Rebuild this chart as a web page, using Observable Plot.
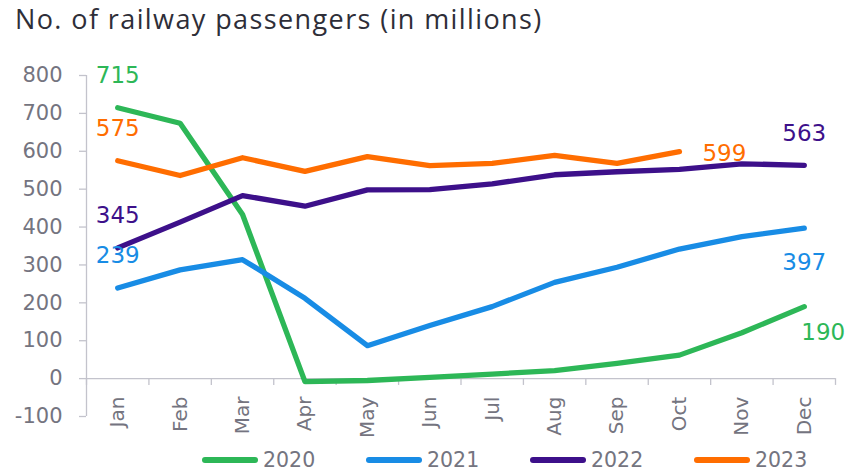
<!DOCTYPE html>
<html>
<head>
<meta charset="utf-8">
<script src="https://cdn.jsdelivr.net/npm/d3@7"></script>
<script src="https://cdn.jsdelivr.net/npm/@observablehq/plot@0.6"></script>
<style>
  html, body { margin: 0; padding: 0; background: #ffffff; }
  #wrap { width: 846px; height: 473px; position: relative; overflow: hidden; }
  #title { height: 46px; box-sizing: border-box; padding: 0 0 0 15px; font-family: "Open Sans", sans-serif; font-size: 27px; letter-spacing: 1.4px; line-height: 37px; color: #2E2E38; white-space: nowrap; }
  #legend { height: 27px; display: flex; align-items: center; padding-left: 202px; font-family: "DejaVu Sans", sans-serif; font-size: 20.5px; color: #747480; }
  .item { width: 164px; display: flex; align-items: center; flex: none; }
  .swatch { width: 56px; height: 6px; border-radius: 3px; margin-right: 5px; }
  svg { display: block; }
</style>
</head>
<body>
<div id="wrap">
  <div id="title">No. of railway passengers (in millions)</div>
  <div id="chart"></div>
  <div id="legend"></div>
</div>
<script>
const months = ["Jan","Feb","Mar","Apr","May","Jun","Jul","Aug","Sep","Oct","Nov","Dec"];
const years = ["2020","2021","2022","2023"];
const colors = ["#2DB757","#188CE5","#3D108A","#FF6D00"];
const v2020 = [715, 674, 433, -8, -5, 3, 12, 21, 40, 62, 121, 190];
const v2021 = [239, 287, 314, 212, 87, 140, 190, 254, 294, 342, 375, 397];
const v2022 = [345, 413, 483, 455, 498, 499, 514, 538, 546, 552, 567, 563];
const v2023 = [575, 536, 583, 547, 586, 562, 568, 589, 568, 599];
const yTicks = [-100, 0, 100, 200, 300, 400, 500, 600, 700, 800];

const seriesValues = [v2020, v2021, v2022, v2023];
const rows = [];
seriesValues.forEach((vals, s) => vals.forEach((v, i) => rows.push({year: years[s], i, month: months[i], value: v})));

const idx = months.map((m, i) => i);
const edges = d3.range(months.length + 1).map(i => i - 0.5);

// value labels: first and last point of each series
const firstPts = seriesValues.map((vals, s) => ({year: years[s], i: 0, value: vals[0]}));
const lastPts = seriesValues.map((vals, s) => ({year: years[s], i: vals.length - 1, value: vals[vals.length - 1]}));
const find = (arr, y) => arr.filter(d => d.year === y);

const axisColor = "#C3C3CC";
const textColor = "#747480";
const colorOf = y => colors[years.indexOf(y)];

const chart = Plot.plot({
  width: 846,
  height: 400,
  marginLeft: 86,
  marginRight: 11,
  marginTop: 29,
  marginBottom: 30,
  style: {fontFamily: "DejaVu Sans, sans-serif", background: "transparent", overflow: "visible"},
  x: {domain: [-0.5, months.length - 0.5], axis: null},
  y: {domain: [-100, 800], axis: null},
  marks: [
    Plot.ruleX([-0.5], {y1: -100, y2: 800, stroke: axisColor, strokeWidth: 1.3}),
    Plot.ruleY([0], {x1: -0.5, x2: months.length - 0.5, stroke: axisColor, strokeWidth: 1.3}),
    Plot.axisY({ticks: yTicks, label: null, tickSize: 7, tickPadding: 17, stroke: axisColor, fill: textColor, fontSize: 21, tickFormat: d => String(d), strokeWidth: 1.3, style: {letterSpacing: "1px"}}),
    Plot.ruleX(edges, {x: d => d, y1: 0, y2: -18, stroke: axisColor, strokeWidth: 1.3}),
    Plot.text(idx, {x: d => d, y: 0, text: d => months[d], rotate: -90, textAnchor: "end", lineAnchor: "middle", dy: 18, fontSize: 20, fill: textColor}),
    Plot.line(rows, {x: "i", y: "value", z: "year", stroke: d => colorOf(d.year), strokeWidth: 5.3, strokeLinecap: "round", strokeLinejoin: "round"}),
    // labels above first points
    Plot.text(firstPts, {x: "i", y: "value", text: d => String(d.value), fill: d => colorOf(d.year), dy: -32, fontSize: 23}),
    // 2022 last above
    Plot.text(find(lastPts, "2022"), {x: "i", y: "value", text: d => String(d.value), fill: d => colorOf(d.year), dy: -32, fontSize: 23}),
    // 2021 last below
    Plot.text(find(lastPts, "2021"), {x: "i", y: "value", text: d => String(d.value), fill: d => colorOf(d.year), dy: 34, fontSize: 23}),
    // 2020 last below-right
    Plot.text(find(lastPts, "2020"), {x: "i", y: "value", text: d => String(d.value), fill: d => colorOf(d.year), dy: 26, dx: 19, fontSize: 23}),
    // 2023 last right
    Plot.text(find(lastPts, "2023"), {x: "i", y: "value", text: d => String(d.value), fill: d => colorOf(d.year), dx: 23, dy: 2, textAnchor: "start", fontSize: 23})
  ]
});
document.getElementById("chart").appendChild(chart);

const legend = document.getElementById("legend");
years.forEach((y, s) => {
  const item = document.createElement("div");
  item.className = "item";
  const sw = document.createElement("div");
  sw.className = "swatch";
  sw.style.background = colors[s];
  const t = document.createElement("span");
  t.textContent = y;
  item.appendChild(sw);
  item.appendChild(t);
  legend.appendChild(item);
});
</script>
</body>
</html>
